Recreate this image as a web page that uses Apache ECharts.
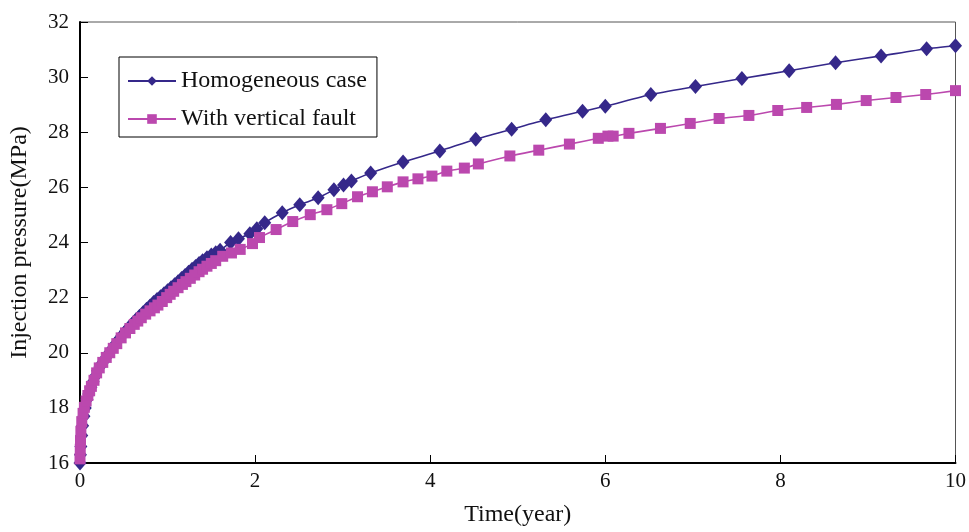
<!DOCTYPE html>
<html>
<head>
<meta charset="utf-8">
<script src="https://cdn.jsdelivr.net/npm/echarts@6/dist/echarts.min.js"></script>
<style>html,body{margin:0;padding:0;background:#fff}#c{width:969px;height:532px}</style>
</head>
<body>
<div id="c"></div>
<script>
// Time (year) and injection pressure (MPa)
const homogeneousTime = [0,0.005,0.01,0.02,0.03,0.045,0.06,0.08,0.1,0.125,0.15,0.175,0.2,0.23,0.26,0.29,0.32,0.36,0.4,0.44,0.48,0.52,0.56,0.6,0.64,0.68,0.72,0.76,0.8,0.84,0.88,0.92,0.96,1.0,1.04,1.08,1.12,1.16,1.2,1.24,1.28,1.32,1.36,1.4,1.45,1.5,1.55,1.6,1.72,1.81,1.94,2.02,2.11,2.31,2.51,2.72,2.90,3.01,3.10,3.32,3.69,4.11,4.52,4.93,5.32,5.74,6.0,6.52,7.03,7.56,8.10,8.63,9.15,9.67,10.0];
const homogeneousPressure = [16.0,16.3,16.6,17.0,17.35,17.7,18.0,18.3,18.5,18.75,18.95,19.15,19.35,19.5,19.65,19.8,19.95,20.12,20.3,20.47,20.63,20.78,20.92,21.06,21.2,21.32,21.45,21.58,21.7,21.82,21.93,22.03,22.14,22.25,22.36,22.47,22.58,22.69,22.8,22.92,23.03,23.13,23.24,23.34,23.45,23.55,23.63,23.72,24.0,24.14,24.32,24.5,24.72,25.08,25.37,25.62,25.91,26.09,26.23,26.52,26.92,27.32,27.75,28.11,28.45,28.76,28.94,29.37,29.66,29.95,30.23,30.52,30.77,31.03,31.14];
const faultTime = [0,0.003,0.006,0.01,0.02,0.035,0.05,0.07,0.09,0.11,0.13,0.16,0.19,0.22,0.26,0.3,0.34,0.38,0.42,0.47,0.52,0.57,0.62,0.66,0.7,0.75,0.8,0.85,0.89,0.94,0.99,1.03,1.07,1.12,1.17,1.21,1.26,1.31,1.36,1.4,1.45,1.5,1.55,1.63,1.73,1.83,1.97,2.05,2.24,2.43,2.63,2.82,2.99,3.17,3.34,3.51,3.69,3.86,4.02,4.19,4.39,4.55,4.91,5.24,5.59,5.92,6.03,6.09,6.27,6.63,6.97,7.30,7.64,7.97,8.30,8.64,8.98,9.32,9.66,10.0];
const faultPressure = [16.15,16.5,16.8,17.15,17.5,17.8,18.02,18.25,18.45,18.62,18.78,19.0,19.27,19.45,19.65,19.83,20.0,20.16,20.33,20.54,20.72,20.88,21.03,21.15,21.27,21.4,21.52,21.63,21.73,21.86,22.0,22.12,22.23,22.36,22.48,22.58,22.7,22.82,22.94,23.03,23.14,23.24,23.34,23.5,23.62,23.75,23.96,24.18,24.47,24.76,25.01,25.19,25.41,25.66,25.84,26.02,26.2,26.31,26.41,26.59,26.7,26.85,27.14,27.35,27.57,27.78,27.86,27.86,27.96,28.14,28.32,28.5,28.61,28.79,28.9,29.01,29.15,29.26,29.37,29.51];
const seriesNames = ['Homogeneous case','With vertical fault'];

const pair = (xs, ys) => xs.map((x, i) => [x, ys[i]]);
const font = 'Liberation Serif';
const blue = '#35288a', pink = '#bb48ae';

const chart = echarts.init(document.getElementById('c'), null, {renderer: 'canvas'});
chart.setOption({
  animation: false,
  backgroundColor: '#fff',
  grid: {left: 79, right: 11, top: 22, bottom: 66, show: true, borderColor: '#555', borderWidth: 1, backgroundColor: 'transparent'},
  legend: {
    left: 119, top: 57, orient: 'vertical',
    padding: [12, 10, 6, 8],
    itemGap: 14,
    itemWidth: 48, itemHeight: 12,
    borderColor: '#000', borderWidth: 1,
    textStyle: {fontFamily: font, fontSize: 24, color: '#111'},
    data: seriesNames
  },
  xAxis: {
    type: 'value', min: 0, max: 10, interval: 2,
    name: 'Time(year)', nameLocation: 'middle', nameGap: 40,
    nameTextStyle: {fontFamily: font, fontSize: 24, color: '#111'},
    axisLine: {lineStyle: {color: '#000', width: 2}},
    axisTick: {inside: true, length: 8, lineStyle: {color: '#000', width: 1}},
    axisLabel: {fontFamily: font, fontSize: 21, color: '#111', margin: 8},
    splitLine: {show: false}
  },
  yAxis: {
    type: 'value', min: 16, max: 32, interval: 2,
    name: 'Injection pressure(MPa)', nameLocation: 'middle', nameGap: 48,
    nameTextStyle: {fontFamily: font, fontSize: 24, color: '#111'},
    axisLine: {show: true, lineStyle: {color: '#000', width: 2}},
    axisTick: {show: true, inside: true, length: 8, lineStyle: {color: '#000', width: 1}},
    axisLabel: {fontFamily: font, fontSize: 21, color: '#111', margin: 11},
    splitLine: {show: false}
  },
  series: [
    {
      name: seriesNames[0], type: 'line', data: pair(homogeneousTime, homogeneousPressure),
      smooth: 0.2, symbol: 'diamond', symbolSize: [13, 15], showAllSymbol: true,
      lineStyle: {color: blue, width: 1.6}, itemStyle: {color: blue}
    },
    {
      name: seriesNames[1], type: 'line', data: pair(faultTime, faultPressure),
      smooth: 0.2, symbol: 'rect', symbolSize: 11, showAllSymbol: true,
      lineStyle: {color: pink, width: 1.6}, itemStyle: {color: pink}
    }
  ]
});
</script>
</body>
</html>
